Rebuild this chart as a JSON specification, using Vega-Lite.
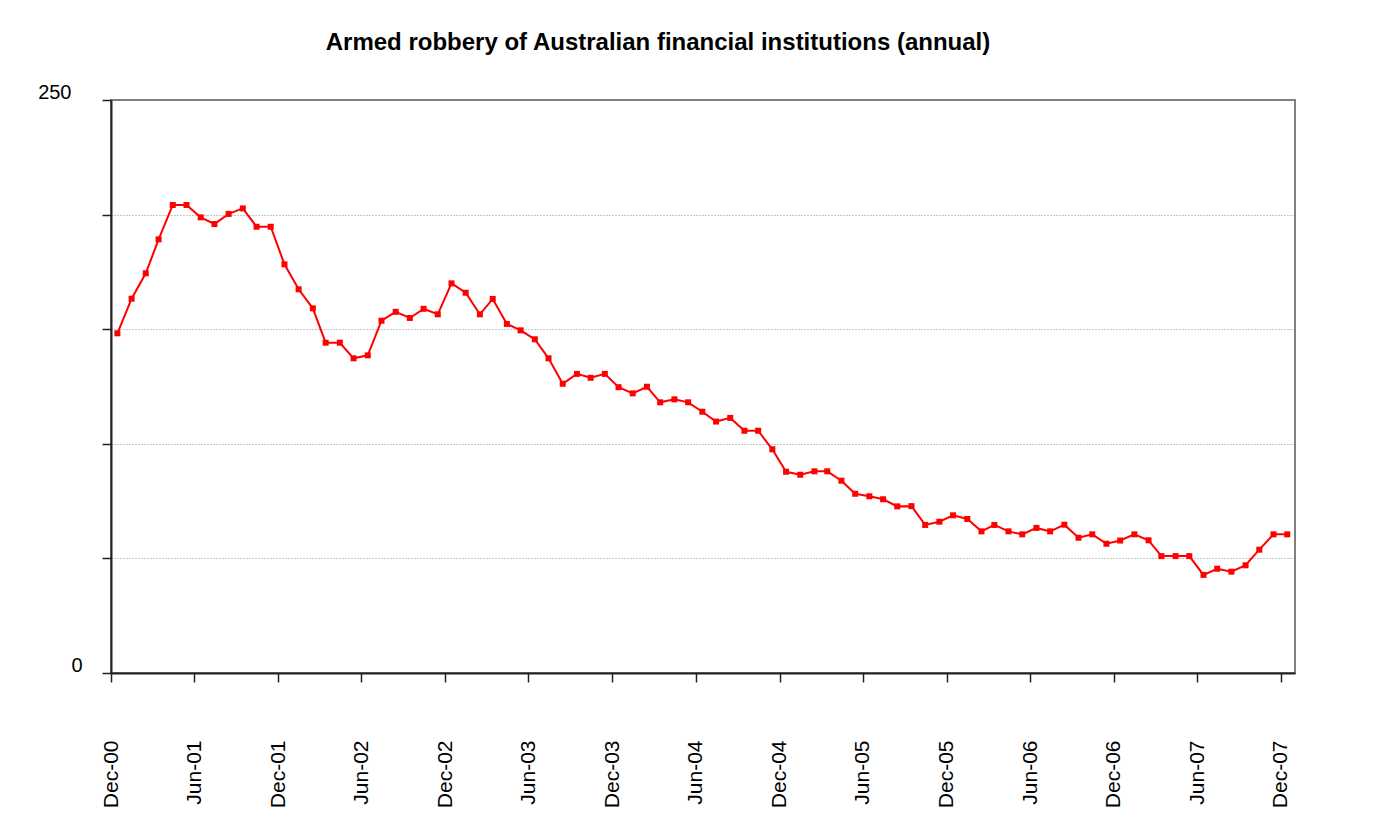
{
  "$schema": "https://vega.github.io/schema/vega-lite/v6.json",
  "autosize": "none",
  "width": 1184,
  "height": 573,
  "padding": {"left": 111, "top": 100, "right": 82, "bottom": 146},
  "background": "white",
  "title": {
    "text": "Armed robbery of Australian financial institutions (annual)",
    "font": "Liberation Sans",
    "fontSize": 24,
    "fontWeight": "bold",
    "color": "black",
    "anchor": "middle",
    "dx": -45,
    "baseline": "alphabetic",
    "offset": 8
  },
  "config": {
    "font": "Liberation Sans",
    "view": {"stroke": "#808080", "strokeWidth": 2},
    "axis": {
      "labelFont": "Liberation Sans",
      "labelFontSize": 20,
      "labelColor": "black",
      "domainColor": "#222222",
      "domainWidth": 2,
      "tickColor": "#222222",
      "tickWidth": 1.5,
      "tickSize": 9,
      "title": null
    }
  },
  "data": {
    "values": [
      {"month": "2000-12-15", "robberies": 148.2},
      {"month": "2001-01-15", "robberies": 163.3},
      {"month": "2001-02-15", "robberies": 174.4},
      {"month": "2001-03-15", "robberies": 189.2},
      {"month": "2001-04-15", "robberies": 204.2},
      {"month": "2001-05-15", "robberies": 204.2},
      {"month": "2001-06-15", "robberies": 198.8},
      {"month": "2001-07-15", "robberies": 195.9},
      {"month": "2001-08-15", "robberies": 200.3},
      {"month": "2001-09-15", "robberies": 202.7},
      {"month": "2001-10-15", "robberies": 194.7},
      {"month": "2001-11-15", "robberies": 194.7},
      {"month": "2001-12-15", "robberies": 178.3},
      {"month": "2002-01-15", "robberies": 167.4},
      {"month": "2002-02-15", "robberies": 159.1},
      {"month": "2002-03-15", "robberies": 144.1},
      {"month": "2002-04-15", "robberies": 144.1},
      {"month": "2002-05-15", "robberies": 137.3},
      {"month": "2002-06-15", "robberies": 138.6},
      {"month": "2002-07-15", "robberies": 153.7},
      {"month": "2002-08-15", "robberies": 157.6},
      {"month": "2002-09-15", "robberies": 154.9},
      {"month": "2002-10-15", "robberies": 158.9},
      {"month": "2002-11-15", "robberies": 156.5},
      {"month": "2002-12-15", "robberies": 170.0},
      {"month": "2003-01-15", "robberies": 165.9},
      {"month": "2003-02-15", "robberies": 156.5},
      {"month": "2003-03-15", "robberies": 163.2},
      {"month": "2003-04-15", "robberies": 152.3},
      {"month": "2003-05-15", "robberies": 149.5},
      {"month": "2003-06-15", "robberies": 145.6},
      {"month": "2003-07-15", "robberies": 137.3},
      {"month": "2003-08-15", "robberies": 126.2},
      {"month": "2003-09-15", "robberies": 130.5},
      {"month": "2003-10-15", "robberies": 128.8},
      {"month": "2003-11-15", "robberies": 130.5},
      {"month": "2003-12-15", "robberies": 124.7},
      {"month": "2004-01-15", "robberies": 122.0},
      {"month": "2004-02-15", "robberies": 124.9},
      {"month": "2004-03-15", "robberies": 118.1},
      {"month": "2004-04-15", "robberies": 119.4},
      {"month": "2004-05-15", "robberies": 118.1},
      {"month": "2004-06-15", "robberies": 114.0},
      {"month": "2004-07-15", "robberies": 109.7},
      {"month": "2004-08-15", "robberies": 111.3},
      {"month": "2004-09-15", "robberies": 105.7},
      {"month": "2004-10-15", "robberies": 105.7},
      {"month": "2004-11-15", "robberies": 97.6},
      {"month": "2004-12-15", "robberies": 87.8},
      {"month": "2005-01-15", "robberies": 86.5},
      {"month": "2005-02-15", "robberies": 88.0},
      {"month": "2005-03-15", "robberies": 88.0},
      {"month": "2005-04-15", "robberies": 83.9},
      {"month": "2005-05-15", "robberies": 78.2},
      {"month": "2005-06-15", "robberies": 77.1},
      {"month": "2005-07-15", "robberies": 75.8},
      {"month": "2005-08-15", "robberies": 72.7},
      {"month": "2005-09-15", "robberies": 72.8},
      {"month": "2005-10-15", "robberies": 64.6},
      {"month": "2005-11-15", "robberies": 66.0},
      {"month": "2005-12-15", "robberies": 68.8},
      {"month": "2006-01-15", "robberies": 67.2},
      {"month": "2006-02-15", "robberies": 61.8},
      {"month": "2006-03-15", "robberies": 64.6},
      {"month": "2006-04-15", "robberies": 61.8},
      {"month": "2006-05-15", "robberies": 60.5},
      {"month": "2006-06-15", "robberies": 63.3},
      {"month": "2006-07-15", "robberies": 61.8},
      {"month": "2006-08-15", "robberies": 64.7},
      {"month": "2006-09-15", "robberies": 59.0},
      {"month": "2006-10-15", "robberies": 60.5},
      {"month": "2006-11-15", "robberies": 56.4},
      {"month": "2006-12-15", "robberies": 57.8},
      {"month": "2007-01-15", "robberies": 60.5},
      {"month": "2007-02-15", "robberies": 57.9},
      {"month": "2007-03-15", "robberies": 51.0},
      {"month": "2007-04-15", "robberies": 51.0},
      {"month": "2007-05-15", "robberies": 51.0},
      {"month": "2007-06-15", "robberies": 42.8},
      {"month": "2007-07-15", "robberies": 45.5},
      {"month": "2007-08-15", "robberies": 44.2},
      {"month": "2007-09-15", "robberies": 47.0},
      {"month": "2007-10-15", "robberies": 53.8},
      {"month": "2007-11-15", "robberies": 60.5},
      {"month": "2007-12-15", "robberies": 60.5}
    ]
  },
  "encoding": {
    "x": {
      "field": "month",
      "type": "temporal",
      "scale": {
        "type": "utc",
        "domain": [
          {"year": 2000, "month": 12, "date": 1, "utc": true},
          {"year": 2008, "month": 1, "date": 1, "utc": true}
        ]
      },
      "axis": {
        "values": [
          {"year": 2000, "month": 12, "date": 1, "utc": true},
          {"year": 2001, "month": 6, "date": 1, "utc": true},
          {"year": 2001, "month": 12, "date": 1, "utc": true},
          {"year": 2002, "month": 6, "date": 1, "utc": true},
          {"year": 2002, "month": 12, "date": 1, "utc": true},
          {"year": 2003, "month": 6, "date": 1, "utc": true},
          {"year": 2003, "month": 12, "date": 1, "utc": true},
          {"year": 2004, "month": 6, "date": 1, "utc": true},
          {"year": 2004, "month": 12, "date": 1, "utc": true},
          {"year": 2005, "month": 6, "date": 1, "utc": true},
          {"year": 2005, "month": 12, "date": 1, "utc": true},
          {"year": 2006, "month": 6, "date": 1, "utc": true},
          {"year": 2006, "month": 12, "date": 1, "utc": true},
          {"year": 2007, "month": 6, "date": 1, "utc": true},
          {"year": 2007, "month": 12, "date": 1, "utc": true}
        ],
        "labelExpr": "utcFormat(datum.value, '%b-%y')",
        "labelFontSize": 21,
        "labelAngle": 270,
        "labelAlign": "right",
        "labelBaseline": "middle",
        "labelPadding": 58,
        "grid": false,
        "labelOverlap": false,
        "labelFlush": false,
        "labelLimit": 0
      }
    },
    "y": {
      "field": "robberies",
      "type": "quantitative",
      "scale": {"domain": [0, 250], "nice": false, "zero": true},
      "axis": {
        "values": [0, 50, 100, 150, 200, 250],
        "labelExpr": "datum.value == 0 || datum.value == 250 ? datum.label : ''",
        "labelBaseline": "alphabetic",
        "labelOffset": -2,
        "labelPadding": {"condition": {"test": "datum.value == 0", "value": 20}, "value": 31},
        "grid": true,
        "gridColor": "#8c8c8c",
        "gridDash": [1, 2],
        "gridWidth": 1,
        "gridOpacity": {"condition": {"test": "datum.value == 0 || datum.value == 250", "value": 0}, "value": 1},
        "labelFlush": false
      }
    }
  },
  "layer": [
    {"mark": {"type": "line", "color": "#ff0000", "strokeWidth": 2}},
    {"mark": {"type": "point", "shape": "square", "filled": true, "color": "#ff0000", "size": 36, "opacity": 1}}
  ]
}
